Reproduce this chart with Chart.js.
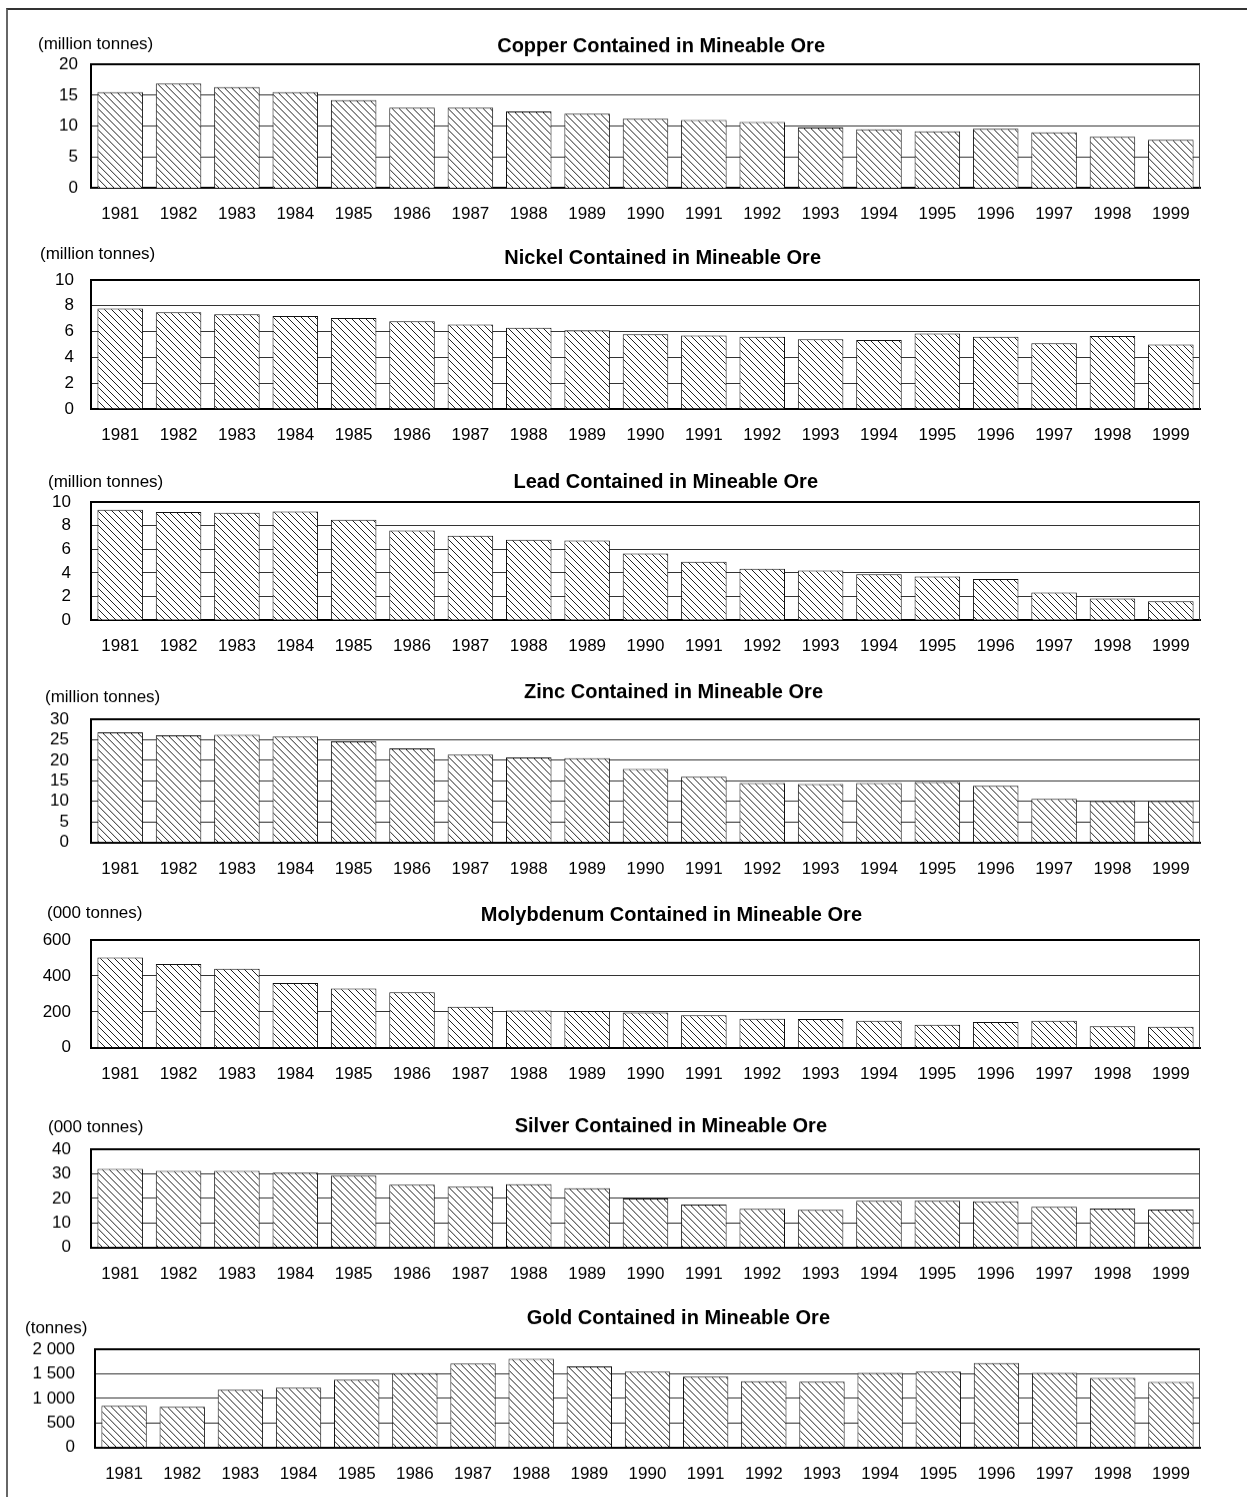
<!DOCTYPE html>
<html>
<head>
<meta charset="utf-8">
<script src="https://cdn.jsdelivr.net/npm/chart.js@4/dist/chart.umd.min.js"></script>
<style>
  html, body { margin: 0; padding: 0; background: #fff; }
  body { width: 1247px; height: 1497px; position: relative; overflow: hidden; }
  .frame { position: absolute; left: 6px; top: 8px; width: 1400px; height: 1600px;
           border-left: 2px solid #666; border-top: 2px solid #333; }
  .panel { position: absolute; left: 0; width: 1247px; }
</style>
</head>
<body>
<div class="frame"></div>

<script>
// Categories
const years = ['1981','1982','1983','1984','1985','1986','1987','1988','1989','1990',
               '1991','1992','1993','1994','1995','1996','1997','1998','1999'];

// Metal contained in mineable ore, by year
const copper = [15.5, 16.9, 16.3, 15.5, 14.2, 13.0, 13.0, 12.4, 12.0, 11.2,
                11.0, 10.7, 9.8, 9.5, 9.2, 9.6, 9.0, 8.3, 7.8];            // million tonnes
const nickel = [7.8, 7.5, 7.35, 7.2, 7.05, 6.8, 6.55, 6.3, 6.1, 5.8,
                5.7, 5.6, 5.4, 5.35, 5.85, 5.6, 5.1, 5.65, 5.0];           // million tonnes
const lead   = [9.35, 9.15, 9.1, 9.2, 8.5, 7.6, 7.15, 6.8, 6.75, 5.65,
                4.95, 4.35, 4.2, 3.9, 3.7, 3.5, 2.35, 1.85, 1.6];          // million tonnes
const zinc   = [26.8, 26.1, 26.2, 25.8, 24.6, 22.9, 21.4, 20.7, 20.5, 17.9,
                16.0, 14.5, 14.2, 14.5, 14.7, 13.8, 10.6, 10.1, 10.1];     // million tonnes
const molybdenum = [503, 467, 440, 361, 330, 309, 228, 207, 205, 196,
                    181, 161, 160, 150, 128, 144, 150, 120, 117];          // 000 tonnes
const silver = [32.0, 31.2, 31.2, 30.5, 29.3, 25.6, 24.8, 25.8, 24.1, 19.9,
                17.5, 15.7, 15.3, 19.0, 19.0, 18.8, 16.6, 15.8, 15.4];     // 000 tonnes
const gold   = [848, 828, 1176, 1217, 1381, 1516, 1709, 1803, 1654, 1545,
                1443, 1352, 1340, 1517, 1544, 1721, 1517, 1415, 1333];     // tonnes

// Axis ranges and tick steps
const axisMax  = [20, 10, 10, 30, 600, 40, 2000];
const axisStep = [5, 2, 2, 5, 200, 10, 500];

// Titles and unit captions
const titles = ['Copper Contained in Mineable Ore', 'Nickel Contained in Mineable Ore',
                'Lead Contained in Mineable Ore', 'Zinc Contained in Mineable Ore',
                'Molybdenum Contained in Mineable Ore', 'Silver Contained in Mineable Ore',
                'Gold Contained in Mineable Ore'];
const units = ['(million tonnes)', '(million tonnes)', '(million tonnes)', '(million tonnes)',
               '(000 tonnes)', '(000 tonnes)', '(tonnes)'];

const seriesList = [copper, nickel, lead, zinc, molybdenum, silver, gold];

// Page geometry for each panel (plot top/bottom, left edge, caption offsets)
const panels = [
  { top: 64.3,  bottom: 187.7,  left: 91, yPad: 13, titleRight: 825, titleDy: 18, unitX: 38, unitDy: 20 },
  { top: 280,   bottom: 409,    left: 91, yPad: 17, titleRight: 821, titleDy: 22, unitX: 40, unitDy: 26 },
  { top: 501.7, bottom: 620,    left: 91, yPad: 20, titleRight: 818, titleDy: 20, unitX: 48, unitDy: 20 },
  { top: 719,   bottom: 841.7,  left: 91, yPad: 22, titleRight: 823, titleDy: 27, unitX: 45, unitDy: 22 },
  { top: 939.5, bottom: 1047.3, left: 91, yPad: 20, titleRight: 862, titleDy: 25, unitX: 47, unitDy: 27 },
  { top: 1149,  bottom: 1246.7, left: 91, yPad: 20, titleRight: 827, titleDy: 23, unitX: 48, unitDy: 22 },
  { top: 1349,  bottom: 1446.7, left: 95, yPad: 20, titleRight: 830, titleDy: 31, unitX: 25, unitDy: 21 }
];
const PLOT_RIGHT = 1200, ABOVE = 40, BELOW = 45;
const FONT = "'Liberation Sans', Arial, Helvetica, sans-serif";

// Diagonal hatch fill for the bars
function hatchPattern() {
  const s = 7;
  const c = document.createElement('canvas');
  c.width = s; c.height = s;
  const g = c.getContext('2d');
  g.fillStyle = '#fff';
  g.fillRect(0, 0, s, s);
  g.strokeStyle = '#222';
  g.lineWidth = 1;
  g.beginPath();
  g.moveTo(-1, -1); g.lineTo(s + 1, s + 1);
  g.moveTo(-1, s - 1); g.lineTo(1, s + 1);
  g.moveTo(s - 1, -1); g.lineTo(s + 1, 1);
  g.stroke();
  return g.createPattern(c, 'repeat');
}

// Plot-area box (top and right edges) plus the caption texts
const panelDecor = {
  id: 'panelDecor',
  afterDraw(chart, args, o) {
    const { ctx, chartArea: a } = chart;
    ctx.save();
    ctx.strokeStyle = '#000';
    ctx.lineWidth = 2;
    ctx.beginPath(); ctx.moveTo(a.left, a.top); ctx.lineTo(a.right, a.top); ctx.stroke();
    ctx.strokeStyle = '#444';
    ctx.lineWidth = 1;
    ctx.beginPath(); ctx.moveTo(a.right - 0.5, a.top); ctx.lineTo(a.right - 0.5, a.bottom); ctx.stroke();

    ctx.fillStyle = '#000';
    ctx.textBaseline = 'middle';
    ctx.font = 'bold 20px ' + FONT;
    ctx.textAlign = 'right';
    ctx.fillText(o.title, o.titleRight, a.top - o.titleDy);
    ctx.font = '17px ' + FONT;
    ctx.textAlign = 'left';
    ctx.fillText(o.unit, o.unitX, a.top - o.unitDy);
    ctx.restore();
  }
};

const spaced = v => String(v).replace(/\B(?=(\d{3})+(?!\d))/g, ' ');

panels.forEach((p, i) => {
  const wrap = document.createElement('div');
  wrap.className = 'panel';
  wrap.style.top = (p.top - ABOVE) + 'px';
  wrap.style.height = (ABOVE + (p.bottom - p.top) + BELOW) + 'px';
  const cv = document.createElement('canvas');
  wrap.appendChild(cv);
  document.body.appendChild(wrap);

  new Chart(cv, {
    type: 'bar',
    data: {
      labels: years,
      datasets: [{
        data: seriesList[i],
        backgroundColor: hatchPattern(),
        borderColor: '#111',
        borderWidth: 1,
        barPercentage: 0.78,
        categoryPercentage: 1.0
      }]
    },
    options: {
      responsive: true,
      maintainAspectRatio: false,
      animation: false,
      events: [],
      layout: { padding: { top: ABOVE, right: 1247 - PLOT_RIGHT, left: 0, bottom: 0 } },
      plugins: {
        legend: { display: false },
        tooltip: { enabled: false },
        panelDecor: {
          title: titles[i], unit: units[i],
          titleRight: p.titleRight, titleDy: p.titleDy, unitX: p.unitX, unitDy: p.unitDy
        }
      },
      scales: {
        x: {
          grid: { display: false, drawTicks: false },
          border: { display: true, color: '#000', width: 2 },
          ticks: { color: '#000', font: { family: FONT, size: 17 }, padding: 16, maxRotation: 0, autoSkip: false },
          afterFit(scale) { scale.height = BELOW; }
        },
        y: {
          min: 0,
          max: axisMax[i],
          grid: { color: '#333', lineWidth: 1, drawTicks: false },
          border: { display: true, color: '#000', width: 2 },
          ticks: {
            stepSize: axisStep[i],
            autoSkip: false,
            color: '#000',
            font: { family: FONT, size: 17 },
            padding: p.yPad,
            callback: v => spaced(v)
          },
          afterFit(scale) { scale.width = p.left; }
        }
      }
    },
    plugins: [panelDecor]
  });
});
</script>
</body>
</html>
